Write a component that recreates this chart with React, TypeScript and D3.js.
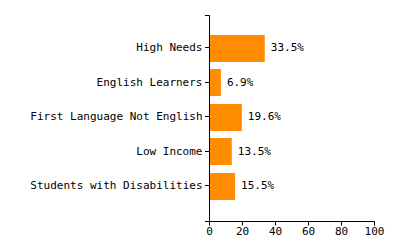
import React from "react";
import * as d3 from "d3";

const categories = [
  "High Needs",
  "English Learners",
  "First Language Not English",
  "Low Income",
  "Students with Disabilities",
];
const values = [33.5, 6.9, 19.6, 13.5, 15.5];
const xTicks = [0, 20, 40, 60, 80, 100];

const W = 400;
const H = 250;
const FONT = "'DejaVu Sans Mono', monospace";

export default function App() {
  const x = d3.scaleLinear().domain([0, 100]).range([209.5, 374.5]);
  const y = d3
    .scaleBand<string>()
    .domain(categories)
    .range([15, 221])
    .paddingInner(0.2174)
    .paddingOuter(0.594)
    .align(0.48);
  const x0 = x(0);
  const yBottom = 221.5;
  const yTop = 15.5;

  return (
    <svg
      width={W}
      height={H}
      style={{ position: "absolute", left: 0, top: 0, background: "#fff" }}
      fontFamily={FONT}
      fontSize={11}
    >
      {categories.map((c, i) => {
        const yy = y(c)!;
        const bw = y.bandwidth();
        const cy = Math.round(yy + bw / 2) - 0.5;
        return (
          <g key={c}>
            <rect
              x={x0 + 0.5}
              y={Math.round(yy)}
              width={x(values[i]) - x0 - 0.5}
              height={Math.round(bw)}
              fill="#FF8C00"
            />
            <text x={x(values[i]) + 6} y={cy} dy="0.35em" fill="#000">
              {values[i].toFixed(1)}%
            </text>
            <line x1={x0 - 4.5} x2={x0} y1={cy} y2={cy} stroke="#000" />
            <text
              x={x0 - 7}
              y={cy}
              dy="0.35em"
              textAnchor="end"
              fill="#000"
            >
              {c}
            </text>
          </g>
        );
      })}
      <path
        d={`M${x0 - 4.5},${yTop}H${x0}V${yBottom}H${x0 - 4.5}`}
        fill="none"
        stroke="#000"
      />
      <path
        d={`M${x(0)},${yBottom + 4}V${yBottom}H${x(100)}V${yBottom + 4}`}
        fill="none"
        stroke="#000"
      />
      {xTicks.map((t) => (
        <g key={t}>
          <line x1={x(t)} x2={x(t)} y1={yBottom} y2={yBottom + 4} stroke="#000" />
          <text x={x(t)} y={yBottom + 13.5} textAnchor="middle" fill="#000">
            {t}
          </text>
        </g>
      ))}
    </svg>
  );
}
